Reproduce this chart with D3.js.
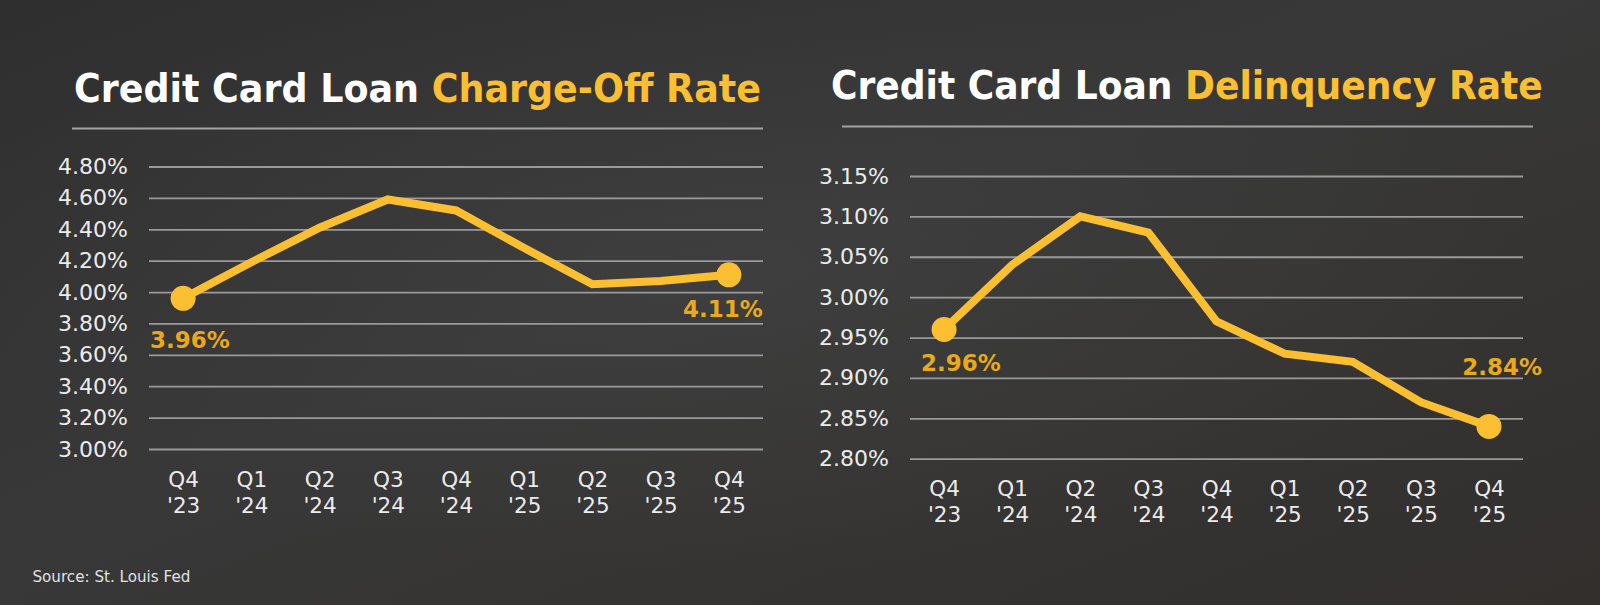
<!DOCTYPE html>
<html>
<head>
<meta charset="utf-8">
<script src="https://cdn.jsdelivr.net/npm/d3@7"></script>
<style>
  html, body { margin: 0; padding: 0; background: #323232; }
  svg { display: block; }
  text { white-space: pre; }
</style>
</head>
<body>
<div id="chart"></div>
<script>
// data
var quarters = ['Q4', 'Q1', 'Q2', 'Q3', 'Q4', 'Q1', 'Q2', 'Q3', 'Q4'];
var years = ["'23", "'24", "'24", "'24", "'24", "'25", "'25", "'25", "'25"];
var chargeOffRate = [3.96, 4.19, 4.41, 4.59, 4.52, 4.28, 4.05, 4.07, 4.11];
var delinquencyRate = [2.96, 3.04, 3.10, 3.08, 2.97, 2.93, 2.92, 2.87, 2.84];
var chargeOffTicks = [3.0, 3.2, 3.4, 3.6, 3.8, 4.0, 4.2, 4.4, 4.6, 4.8];
var delinquencyTicks = [2.80, 2.85, 2.90, 2.95, 3.00, 3.05, 3.10, 3.15];
var chargeOffTitle = ['Credit Card Loan ', 'Charge-Off Rate'];
var delinquencyTitle = ['Credit Card Loan ', 'Delinquency Rate'];
var sourceNote = 'Source: St. Louis Fed';

var categories = quarters.map(function(q, i) { return q + ' ' + years[i]; });

var w = 1600,
  h = 605,
  gold = '#fcbf31',
  labelGold = '#e9a91a',
  pct = function(d) { return d3.format('.2f')(d) + '%'; };

var svg = d3.select('#chart')
  .append('svg')
  .attr('width', w)
  .attr('height', h);

////////////////////////
// Background
////////////////////////
var defs = svg.append('defs');
var bg = defs.append('linearGradient')
  .attr('id', 'bg')
  .attr('x1', '0').attr('y1', '0').attr('x2', '1').attr('y2', '1');
bg.append('stop').attr('offset', '0%').attr('stop-color', '#2f2f2f');
bg.append('stop').attr('offset', '45%').attr('stop-color', '#383838');
bg.append('stop').attr('offset', '100%').attr('stop-color', '#322f2d');
var glow = defs.append('radialGradient')
  .attr('id', 'glow')
  .attr('cx', '0.45').attr('cy', '0.45').attr('r', '0.5');
glow.append('stop').attr('offset', '0%').attr('stop-color', '#4a4a4a').attr('stop-opacity', 0.35);
glow.append('stop').attr('offset', '100%').attr('stop-color', '#4a4a4a').attr('stop-opacity', 0);

svg.append('rect').attr('width', w).attr('height', h).attr('fill', 'url(#bg)');
svg.append('rect').attr('width', w).attr('height', h).attr('fill', 'url(#glow)');

// squeeze a text element horizontally so it spans a given width
function fitWidth(sel, x0, width) {
  var tw = sel.node().getComputedTextLength();
  sel.attr('transform', 'translate(' + x0 + ',0) scale(' + (width / tw) + ',1) translate(' + (-x0) + ',0)');
}

function drawChart(cfg) {
  var g = svg.append('g').attr('class', 'panel');

  var x = d3.scalePoint()
    .domain(categories)
    .range([cfg.x0, cfg.x1])
    .padding(0.5);

  var y = d3.scaleLinear()
    .domain(cfg.domain)
    .range([cfg.yBottom, cfg.yTop]);

  // title
  var title = g.append('text')
    .attr('x', cfg.titleX)
    .attr('y', cfg.titleY)
    .style('font-family', '"DejaVu Sans Condensed", "DejaVu Sans", sans-serif')
    .style('font-weight', 'bold')
    .style('font-size', '38.5px');
  title.append('tspan').attr('fill', '#ffffff').text(cfg.title[0]);
  title.append('tspan').attr('fill', gold).text(cfg.title[1]);
  fitWidth(title, cfg.titleX, cfg.titleW);

  // rule under title
  g.append('line')
    .attr('x1', cfg.ruleX0).attr('x2', cfg.ruleX1)
    .attr('y1', cfg.ruleY).attr('y2', cfg.ruleY)
    .attr('stroke', '#a3a3a3')
    .attr('stroke-width', 2);

  // y axis + gridlines
  var yAxis = g.append('g')
    .attr('transform', 'translate(' + cfg.x0 + ',0)')
    .call(d3.axisLeft(y)
      .tickValues(cfg.ticks)
      .tickSize(-(cfg.x1 - cfg.x0))
      .tickPadding(21)
      .tickFormat(pct));
  yAxis.select('.domain').remove();
  yAxis.selectAll('.tick line')
    .attr('stroke', '#9a9a9a')
    .attr('stroke-width', 1.8);
  yAxis.selectAll('.tick text')
    .attr('fill', '#ececec')
    .style('font-family', '"DejaVu Sans", sans-serif')
    .style('font-size', '22px');

  // x axis, two-line labels
  var xAxis = g.append('g')
    .attr('transform', 'translate(0,' + cfg.yBottom + ')')
    .call(d3.axisBottom(x).tickSize(0).tickPadding(0));
  xAxis.select('.domain').remove();
  xAxis.selectAll('.tick text')
    .attr('fill', '#ececec')
    .attr('dy', null)
    .attr('y', null)
    .style('font-family', '"DejaVu Sans", sans-serif')
    .style('font-size', '21.5px')
    .text(null)
    .each(function(d, i) {
      var t = d3.select(this);
      t.append('tspan').attr('x', 0).attr('y', cfg.xLab1).text(quarters[i]);
      t.append('tspan').attr('x', 0).attr('y', cfg.xLab2).text(years[i]);
    });

  // line
  var line = d3.line()
    .x(function(d, i) { return x(categories[i]); })
    .y(function(d) { return y(d); });

  g.append('path')
    .datum(cfg.values)
    .attr('d', line)
    .attr('fill', 'none')
    .attr('stroke', gold)
    .attr('stroke-width', 8)
    .attr('stroke-linejoin', 'miter');

  // end markers + value labels
  var last = cfg.values.length - 1;
  var ends = [
    {i: 0, v: cfg.values[0], off: cfg.firstLabel},
    {i: last, v: cfg.values[last], off: cfg.lastLabel}
  ];

  g.selectAll('circle.end')
    .data(ends)
    .enter().append('circle')
    .attr('class', 'end')
    .attr('cx', function(d) { return x(categories[d.i]); })
    .attr('cy', function(d) { return y(d.v); })
    .attr('r', 12.5)
    .attr('fill', gold);

  g.selectAll('text.val')
    .data(ends)
    .enter().append('text')
    .attr('class', 'val')
    .attr('x', function(d) { return x(categories[d.i]) + d.off[0]; })
    .attr('y', function(d) { return y(d.v) + d.off[1]; })
    .attr('text-anchor', function(d) { return d.off[2]; })
    .attr('fill', labelGold)
    .style('font-family', '"DejaVu Sans", sans-serif')
    .style('font-weight', 'bold')
    .style('font-size', '23px')
    .text(function(d) { return pct(d.v); });
}

////////////////////////
// Draw both panels
////////////////////////
drawChart({
  title: chargeOffTitle,
  titleX: 74, titleY: 102.5, titleW: 687,
  ruleX0: 72, ruleX1: 763, ruleY: 128.5,
  x0: 149, x1: 763,
  yTop: 166.5, yBottom: 449,
  domain: [3.0, 4.8],
  ticks: chargeOffTicks,
  values: chargeOffRate,
  xLab1: 38, xLab2: 64,
  firstLabel: [-33, 50, 'start'],
  lastLabel: [34, 42, 'end']
});

drawChart({
  title: delinquencyTitle,
  titleX: 831, titleY: 99.5, titleW: 712,
  ruleX0: 842, ruleX1: 1533, ruleY: 126.5,
  x0: 910, x1: 1523,
  yTop: 176, yBottom: 458.7,
  domain: [2.80, 3.15],
  ticks: delinquencyTicks,
  values: delinquencyRate,
  xLab1: 37.5, xLab2: 63.5,
  firstLabel: [-23, 42, 'start'],
  lastLabel: [53, -51, 'end']
});

// source
var src = svg.append('text')
  .attr('x', 32.5)
  .attr('y', 582.5)
  .attr('fill', '#e2e2e2')
  .style('font-family', '"DejaVu Sans", sans-serif')
  .style('font-size', '15px')
  .text(sourceNote);
fitWidth(src, 32.5, 158);
</script>
</body>
</html>
